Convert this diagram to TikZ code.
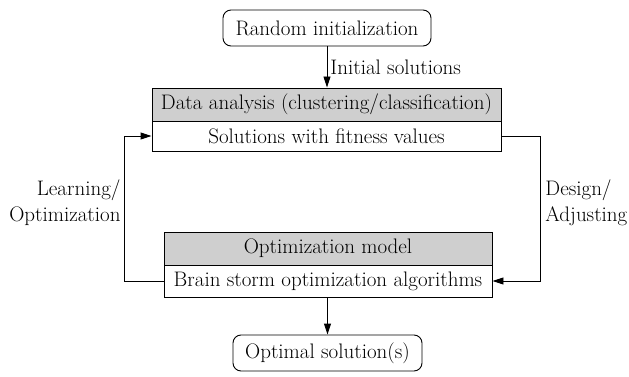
\documentclass[tikz,border=0pt]{standalone}
\usetikzlibrary{arrows.meta}
\definecolor{boxgray}{RGB}{207,207,207}
\begin{document}
\begin{tikzpicture}[x=1pt,y=-1pt,
  font=\fontsize{21}{26}\selectfont,
  line width=0.9pt,
  rbox/.style={draw,rounded corners=8pt,inner sep=0pt},
  hbox/.style={draw,fill=boxgray,inner sep=0pt},
  wbox/.style={draw,fill=white,inner sep=0pt},
  arr/.style={-{Triangle[length=11pt,width=7pt]}},
  lbl/.style={inner sep=0pt}]
\useasboundingbox (0,0) rectangle (629,377);
\node[rbox,minimum width=208pt,minimum height=36pt] (ri) at (327,28) {Random initialization};
\node[hbox,minimum width=349pt,minimum height=33pt] (da) at (326.5,104.5) {Data analysis (clustering/classification)};
\node[wbox,minimum width=349pt,minimum height=30pt] (sol) at (326.5,136) {Solutions with fitness values};
\node[hbox,minimum width=328pt,minimum height=33pt] (om) at (328,248.5) {Optimization model};
\node[wbox,minimum width=328pt,minimum height=32pt] (bso) at (328,281) {Brain storm optimization algorithms};
\node[rbox,minimum width=189pt,minimum height=36pt] (os) at (327.5,353) {Optimal solution(s)};
\coordinate (lc) at (124,281);
\coordinate (rc) at (540,136);
\draw[arr] (ri.south) -- node[lbl,anchor=west,xshift=3pt]{Initial solutions} (ri.south |- da.north);
\draw[arr] (bso.west) -- (lc) |- (sol.west);
\draw[arr] (sol.east) -- (rc) |- (bso.east);
\draw[arr] (os.north |- bso.south) -- (os.north);
\node[lbl,anchor=east,align=right] (ll) at (121,203) {Learning/\\Optimization};
\node[lbl,anchor=west,align=left] (rl) at (545,203) {Design/\\Adjusting};
\end{tikzpicture}
\end{document}
